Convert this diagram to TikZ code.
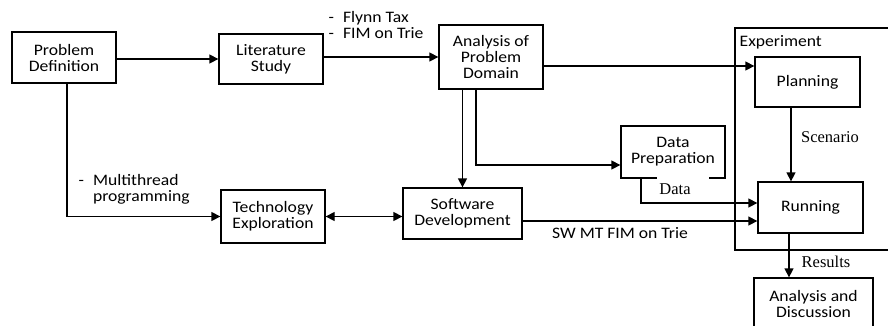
\documentclass[tikz,border=0pt]{standalone}
\usepackage{fontspec}
\setmainfont{Carlito}[FakeStretch=1.1]
\newfontfamily\serlab{Liberation Serif}
\usetikzlibrary{arrows.meta}
\begin{document}
\begin{tikzpicture}[x=1pt,y=-1pt,line width=1.3pt,
 blk/.style={draw,align=center,inner sep=1pt,minimum width=104pt,font=\fontsize{16}{16}\selectfont},
 lbl/.style={inner sep=0pt,font=\fontsize{16}{15}\selectfont},
 slbl/.style={inner sep=0pt,font=\serlab\fontsize{16.5}{16}\selectfont},
 arr/.style={-{Triangle[length=9pt,width=9pt]}},
 darr/.style={{Triangle[length=9pt,width=9pt]}-{Triangle[length=9pt,width=9pt]}}]
\useasboundingbox(0,0)rectangle(888,325);
% boxes
\node[blk,minimum height=51pt](pd)at(64,57.5){Problem\\Definition};
\node[blk,minimum height=50pt](ls)at(271,59){Literature\\Study};
\node[blk,minimum height=64pt](ap)at(491,57){Analysis of\\Problem\\Domain};
\node[blk,minimum width=105pt,minimum height=50pt](pl)at(807.5,82){Planning};
\node[blk,minimum height=52pt](dp)at(673,152){Data\\Preparation};
\node[blk,minimum width=105pt,minimum height=51pt](rn)at(810.5,207.5){Running};
\node[blk,minimum width=119pt,minimum height=51pt](sd)at(462.5,213.5){Software\\Development};
\node[blk,minimum height=53pt](te)at(273,216.5){Technology\\Exploration};
\node[blk,minimum width=119pt,minimum height=52pt](ad)at(813.5,304){Analysis and\\Discussion};
% experiment frame
\draw(735,28)rectangle(895,250);
\node[lbl,anchor=base west](ex)at(739,46){Experiment};
% labels
\node[lbl,anchor=west](ft)at(328,27){\begin{tabular}{@{}l@{\hspace{9pt}}l@{}}-&Flynn Tax\\-&FIM on Trie\end{tabular}};
\node[lbl,anchor=west](mt)at(78,190){\begin{tabular}{@{}l@{\hspace{9pt}}l@{}}-&Multithread\\&programming\end{tabular}};
\node[lbl](sw)at(620,233){SW MT FIM on Trie};
\node[slbl](sc)at(830,137){Scenario};
\node[slbl](rs)at(826,262){Results};
\node[slbl,fill=white,minimum width=52pt,minimum height=24pt](dt)at(683,189){\hspace*{-16pt}Data};
% connectors
\draw[arr](pd.east|-ls.west)--(ls.west);
\draw[arr](ls.east|-ap.west)--(ap.west);
\coordinate(a1)at([yshift=-9pt]ap.east);
\draw[arr](a1)--(a1-|pl.west);
\draw[arr](ap.south-|sd.north)--(sd.north);
\draw[arr]([xshift=-15pt]ap.south)|-([yshift=-13pt]dp.west);
\coordinate(p1)at([xshift=-16.5pt]pl.south);
\draw[arr](p1)--(p1|-rn.north);
\draw[arr]([xshift=-32pt]dp.south)|-([yshift=4.5pt]rn.west);
\draw[arr]([yshift=-7.5pt]sd.east)--([yshift=-13.5pt]rn.west);
\coordinate(r1)at([xshift=-21.5pt]rn.south);
\draw[arr](r1)--(r1|-ad.north);
\draw[arr]([xshift=3pt]pd.south)|-(te.west);
\draw[darr](te.east)--(te.east-|sd.west);
\end{tikzpicture}
\end{document}
